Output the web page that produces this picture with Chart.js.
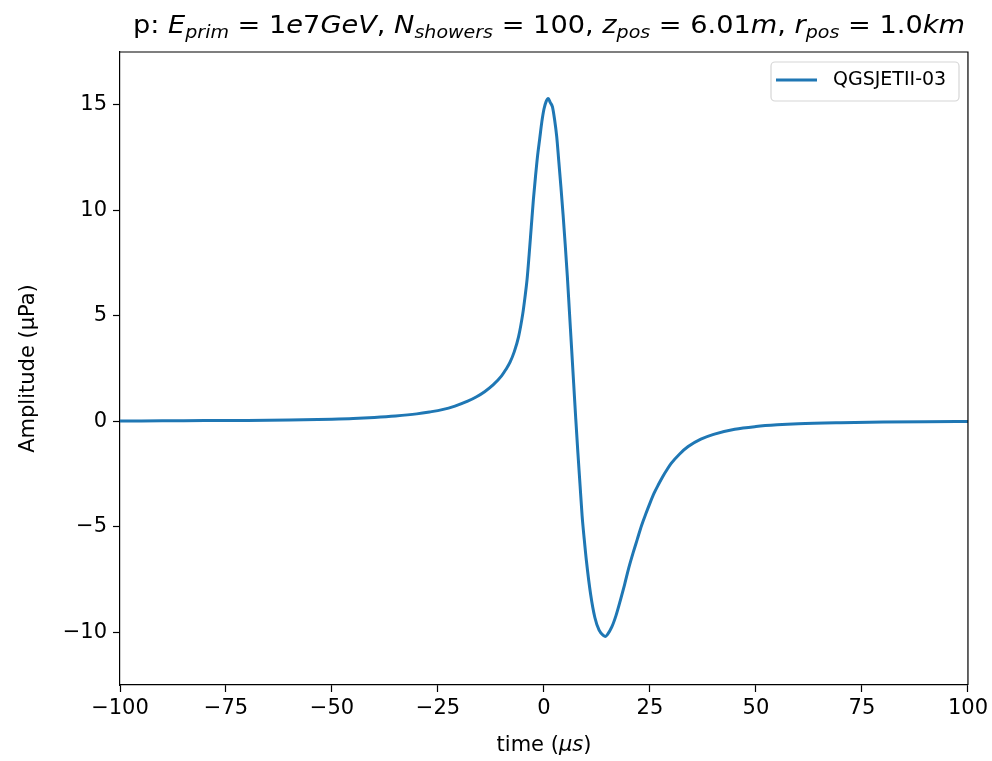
<!DOCTYPE html>
<html>
<head>
<meta charset="utf-8">
<script src="https://cdn.jsdelivr.net/npm/chart.js@4.4.1/dist/chart.umd.min.js"></script>
<style>
  html, body { margin: 0; padding: 0; background: #fff; }
  #wrap { width: 992px; height: 761px; }
</style>
</head>
<body>
<div id="wrap"><canvas id="pulse" width="992" height="761"></canvas></div>
<script>
// averaged pressure pulse, time in µs, amplitude in µPa
const timeUs = [
  -100, -90, -80, -70, -60, -50, -45, -40, -35, -30, -27, -24, -21, -18, -16, -14, -12, -10,
  -9, -8, -7, -6, -5, -4.5, -4, -3.5, -3, -2.5, -2, -1.5, -1, -0.5, 0, 0.5, 1, 1.5, 2,
  2.5, 3, 3.5, 4, 4.5, 5, 5.5, 6, 6.5, 7, 7.5, 8, 8.5, 9, 9.5, 10, 11, 12, 13, 14, 14.5, 15,
  16, 17, 18, 19, 20, 21, 22, 23, 24, 25, 26, 27, 28, 29, 30, 32, 34, 37, 40, 45, 50, 55, 60, 70, 80, 90, 100
];
const amplitude = [
  0.01, 0.02, 0.03, 0.04, 0.06, 0.1, 0.13, 0.18, 0.25, 0.35, 0.44, 0.55, 0.72, 0.95, 1.15, 1.4, 1.72, 2.15,
  2.45, 2.8, 3.3, 4.0, 5.1, 5.85, 6.7, 7.9, 9.2, 10.5, 11.6, 12.6, 13.4, 14.2, 14.8, 15.15, 15.3, 15.1, 14.9,
  14.3, 13.5, 12.3, 11.1, 9.8, 8.4, 6.9, 5.2, 3.5, 1.8, 0.1, -1.5, -3.0, -4.5, -5.6, -6.6, -8.2, -9.3, -9.9, -10.15, -10.2, -10.1,
  -9.75, -9.2, -8.5, -7.75, -6.95, -6.25, -5.6, -4.95, -4.4, -3.88, -3.4, -3.0, -2.63, -2.3, -2.0, -1.55, -1.2, -0.85, -0.62, -0.38, -0.25, -0.17, -0.12, -0.07, -0.04, -0.02, -0.01
];
const xTicks = [-100, -75, -50, -25, 0, 25, 50, 75, 100];
const yTicks = [-10, -5, 0, 5, 10, 15];
const seriesName = 'QGSJETII-03';

const FONT = '"DejaVu Sans", sans-serif';
const BLUE = '#1f77b4';

const minus = v => (v < 0 ? '\u2212' + Math.abs(v) : String(v));

// title pieces: [text, italic, subscript]
const titleParts = [
  ['p: ', false, false],
  ['E', true, false], ['prim', true, true],
  [' = 1', false, false], ['e', true, false], ['7', false, false], ['GeV', true, false], [', ', false, false],
  ['N', true, false], ['showers', true, true],
  [' = 100, ', false, false],
  ['z', true, false], ['pos', true, true],
  [' = 6.01', false, false], ['m', true, false], [', ', false, false],
  ['r', true, false], ['pos', true, true],
  [' = 1.0', false, false], ['km', true, false]
];

const frame = {
  id: 'frame',
  afterDraw(chart) {
    const ctx = chart.ctx;
    const a = chart.chartArea;
    ctx.save();

    // top and right spines
    ctx.strokeStyle = '#000';
    ctx.lineWidth = 1.2;
    ctx.beginPath();
    ctx.moveTo(a.left, a.top);
    ctx.lineTo(a.right, a.top);
    ctx.lineTo(a.right, a.bottom);
    ctx.stroke();

    // title with math-style subscripts
    const size = 24;
    const fontFor = p => (p[1] ? 'italic ' : '') + (p[2] ? size * 0.7 : size) + 'px ' + FONT;
    let total = 0;
    titleParts.forEach(p => { ctx.font = fontFor(p); total += ctx.measureText(p[0]).width; });
    const left = 133, right = 965;
    const k = (right - left) / total;
    let x = left;
    ctx.fillStyle = '#000';
    ctx.textBaseline = 'alphabetic';
    ctx.textAlign = 'left';
    titleParts.forEach(p => {
      ctx.font = fontFor(p);
      const w = ctx.measureText(p[0]).width;
      ctx.save();
      ctx.translate(x, p[2] ? 38 : 33);
      ctx.scale(k, 1);
      ctx.fillText(p[0], 0, 0);
      ctx.restore();
      x += w * k;
    });

    // axis labels
    ctx.font = '21px ' + FONT;
    const cx = (a.left + a.right) / 2;
    const w1 = ctx.measureText('time (').width;
    ctx.font = 'italic 21px ' + FONT;
    const w2 = ctx.measureText('\u03bcs').width;
    ctx.font = '21px ' + FONT;
    const w3 = ctx.measureText(')').width;
    const sx = cx - (w1 + w2 + w3) / 2;
    ctx.textAlign = 'left';
    ctx.fillText('time (', sx, 751);
    ctx.font = 'italic 21px ' + FONT;
    ctx.fillText('\u03bcs', sx + w1, 751);
    ctx.font = '21px ' + FONT;
    ctx.fillText(')', sx + w1 + w2, 751);

    ctx.save();
    ctx.translate(34, (a.top + a.bottom) / 2);
    ctx.rotate(-Math.PI / 2);
    ctx.textAlign = 'center';
    ctx.fillText('Amplitude (\u00b5Pa)', 0, 0);
    ctx.restore();

    // legend box
    const bx = 771, by = 62, bw = 188, bh = 39, r = 4;
    ctx.fillStyle = 'rgba(255,255,255,0.8)';
    ctx.strokeStyle = '#d6d6d6';
    ctx.lineWidth = 1.2;
    ctx.beginPath();
    ctx.roundRect(bx, by, bw, bh, r);
    ctx.fill();
    ctx.stroke();
    ctx.strokeStyle = BLUE;
    ctx.lineWidth = 3;
    ctx.beginPath();
    ctx.moveTo(776, 80);
    ctx.lineTo(817, 80);
    ctx.stroke();
    ctx.fillStyle = '#000';
    ctx.font = '19px ' + FONT;
    ctx.textAlign = 'left';
    ctx.textBaseline = 'middle';
    ctx.fillText(seriesName, 833, 80);

    ctx.restore();
  }
};

const points = timeUs.map((t, i) => ({ x: t, y: amplitude[i] }));

new Chart(document.getElementById('pulse'), {
  type: 'line',
  data: {
    datasets: [{
      label: seriesName,
      data: points,
      borderColor: BLUE,
      borderWidth: 3,
      pointRadius: 0,
      fill: false,
      cubicInterpolationMode: 'monotone'
    }]
  },
  options: {
    responsive: false,
    animation: false,
    devicePixelRatio: 1,
    layout: { padding: { top: 52, right: 24, left: 0, bottom: 0 } },
    plugins: {
      legend: { display: false },
      tooltip: { enabled: false },
      title: { display: false }
    },
    scales: {
      x: {
        type: 'linear',
        min: -100,
        max: 100,
        afterBuildTicks: s => { s.ticks = xTicks.map(v => ({ value: v })); },
        afterFit: s => { s.height = 76; },
        border: { color: '#000', width: 1.2 },
        grid: { drawOnChartArea: false, drawTicks: true, tickLength: 7, color: '#000', tickWidth: 1.2 },
        ticks: { color: '#000', font: { family: FONT, size: 21 }, padding: 4, maxRotation: 0, callback: minus }
      },
      y: {
        type: 'linear',
        min: -12.5,
        max: 17.5,
        afterBuildTicks: s => { s.ticks = yTicks.map(v => ({ value: v })); },
        afterFit: s => { s.width = 120; },
        border: { color: '#000', width: 1.2 },
        grid: { drawOnChartArea: false, drawTicks: true, tickLength: 7, color: '#000', tickWidth: 1.2 },
        ticks: { color: '#000', font: { family: FONT, size: 21 }, padding: 6, callback: minus }
      }
    }
  },
  plugins: [frame]
});
</script>
</body>
</html>
